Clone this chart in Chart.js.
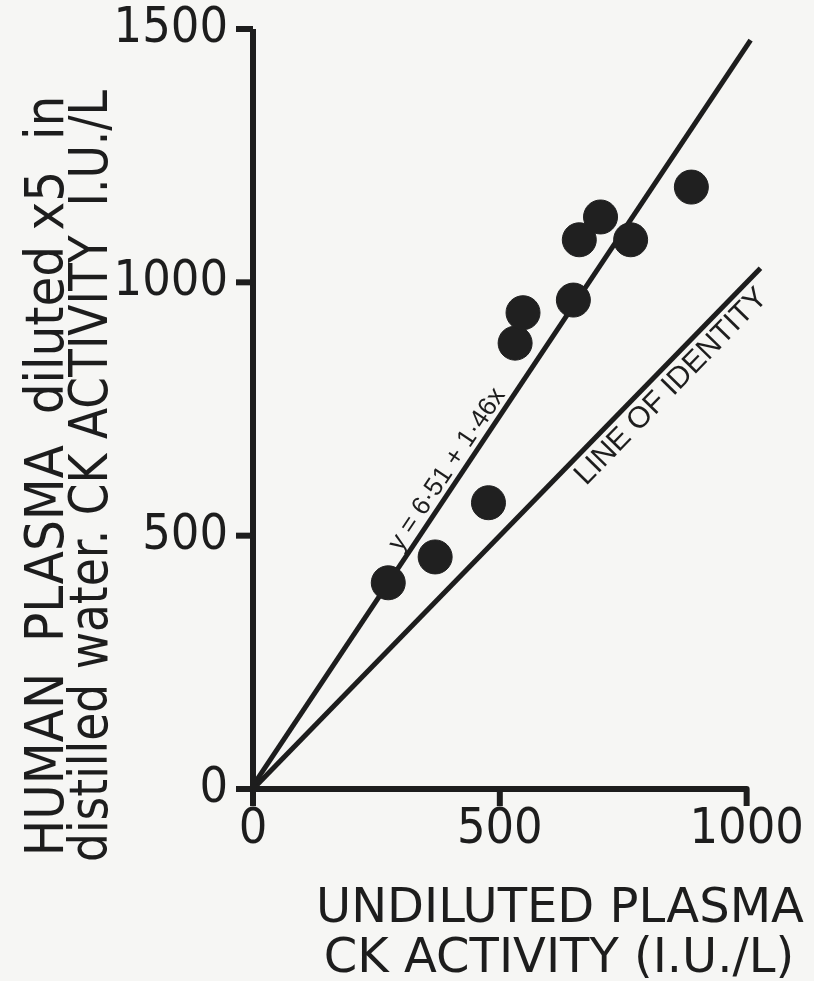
<!DOCTYPE html>
<html>
<head>
<meta charset="utf-8">
<script src="https://cdn.jsdelivr.net/npm/chart.js@4.4.1/dist/chart.umd.min.js"></script>
<style>
	html, body { margin: 0; padding: 0; background: #f6f6f4; }
	canvas { display: block; }
</style>
</head>
<body>
<canvas id="myChart" width="814" height="981"></canvas>
<script>
// values (x = undiluted, y = diluted x5)
const undiluted = [274, 369, 477, 531, 547, 649, 661, 704, 765, 888]
const diluted = [407, 458, 565, 880, 940, 965, 1084, 1129, 1084, 1188]
const xTicks = [0, 500, 1000]
const yTicks = [0, 500, 1000, 1500]

// fitted line as printed on the figure, and where the drawn lines stop
const intercept = 6.51
const slope = 1.46
const fitEnd = 1008
const identityEnd = 1028

const xTitle = ['UNDILUTED PLASMA', 'CK ACTIVITY (I.U./L)']
const yTitle = ['HUMAN  PLASMA  diluted x5  in', 'distilled water. CK ACTIVITY  I.U./L']

const ink = '#1d1d1d'
const narrow = '"Liberation Sans Narrow", "DejaVu Sans Condensed", sans-serif'
const ctx = document.getElementById('myChart')

const points = undiluted.map((x, i) => ({ x: x, y: diluted[i] }))

const paper = {
	id: 'paper',
	beforeDraw(chart) {
		const c = chart.ctx
		c.save()
		c.fillStyle = '#f6f6f4'
		c.fillRect(0, 0, chart.width, chart.height)
		c.restore()
	},
}

// axis lines with outside ticks, stopping at 1000 / 1500 like the original
const axes = {
	id: 'axes',
	afterDraw(chart) {
		const c = chart.ctx
		const xs = chart.scales.x
		const ys = chart.scales.y
		const x0 = xs.getPixelForValue(0)
		const y0 = ys.getPixelForValue(0)
		const tick = 17
		c.save()
		c.strokeStyle = ink
		c.lineWidth = 6
		c.lineCap = 'butt'
		c.lineJoin = 'round'

		c.beginPath()
		c.moveTo(x0, y0 + tick)
		c.lineTo(x0, ys.getPixelForValue(1500))
		c.stroke()
		yTicks.forEach(v => {
			const py = ys.getPixelForValue(v)
			c.beginPath()
			c.moveTo(x0 - tick, py)
			c.lineTo(x0, py)
			c.stroke()
		})

		const xEnd = xs.getPixelForValue(1000)
		c.beginPath()
		c.moveTo(x0, y0)
		c.lineTo(xEnd, y0)
		c.lineTo(xEnd, y0 + tick)
		c.stroke()
		xTicks.slice(0, -1).forEach(v => {
			const px = xs.getPixelForValue(v)
			c.beginPath()
			c.moveTo(px, y0)
			c.lineTo(px, y0 + tick)
			c.stroke()
		})
		c.restore()
	},
}

// rotated labels along the two lines; offset > 0 puts the text above-left
function lineLabel(chart, text, fn, atX, offset, font, maxW) {
	const xs = chart.scales.x
	const ys = chart.scales.y
	const ax = xs.getPixelForValue(atX)
	const ay = ys.getPixelForValue(fn(atX))
	const bx = xs.getPixelForValue(atX + 100)
	const by = ys.getPixelForValue(fn(atX + 100))
	const ang = Math.atan2(by - ay, bx - ax)
	const c = chart.ctx
	c.save()
	c.translate(ax + Math.sin(ang) * offset, ay - Math.cos(ang) * offset)
	c.rotate(ang)
	c.font = font
	c.fillStyle = ink
	c.textAlign = 'center'
	c.textBaseline = 'middle'
	c.fillText(text, 0, 0, maxW)
	c.restore()
}

const labels = {
	id: 'labels',
	afterDraw(chart) {
		const c = chart.ctx
		lineLabel(chart, 'y = 6·51 + 1·46x', x => intercept + slope * x, 417, 14,
			'26px "Liberation Sans", Arial, sans-serif', 222)
		lineLabel(chart, 'LINE OF IDENTITY', x => x, 820, -19,
			'30px "Liberation Sans", Arial, sans-serif', 285)

		c.save()
		c.fillStyle = ink
		c.textAlign = 'center'
		c.textBaseline = 'alphabetic'
		c.font = '48px "DejaVu Sans", sans-serif'
		c.fillText(xTitle[0], 560, 922, 493)
		c.fillText(xTitle[1], 559, 972, 485)

		c.translate(0, 476)
		c.rotate(-Math.PI / 2)
		c.font = '54px ' + narrow
		c.fillText(yTitle[0], 0, 63, 772)
		c.fillText(yTitle[1], 0, 107, 772)
		c.restore()
	},
}

new Chart(ctx, {
	type: 'scatter',
	data: {
		datasets: [
			{
				label: 'samples',
				data: points,
				backgroundColor: '#202020',
				borderColor: '#202020',
				pointRadius: 17,
				pointHoverRadius: 17,
				order: 1,
			},
			{
				label: 'fit',
				type: 'line',
				data: [{ x: 0, y: intercept }, { x: fitEnd, y: intercept + slope * fitEnd }],
				borderColor: ink,
				borderWidth: 5,
				pointRadius: 0,
				order: 2,
			},
			{
				label: 'identity',
				type: 'line',
				data: [{ x: 0, y: 0 }, { x: identityEnd, y: identityEnd }],
				borderColor: ink,
				borderWidth: 5,
				pointRadius: 0,
				order: 2,
			},
		],
	},
	options: {
		responsive: false,
		animation: false,
		devicePixelRatio: 1,
		clip: false,
		layout: {
			padding: { top: 29, right: 0, bottom: 0, left: 0 },
		},
		plugins: {
			legend: { display: false },
			tooltip: { enabled: false },
		},
		scales: {
			x: {
				type: 'linear',
				min: 0,
				max: 1100,
				afterBuildTicks: s => { s.ticks = xTicks.map(v => ({ value: v })) },
				afterFit: s => {
					s.height = 192
					s.paddingLeft = 0
					s.paddingRight = 0
				},
				grid: { display: false, drawTicks: false },
				border: { display: false },
				ticks: {
					color: ink,
					padding: 11,
					maxRotation: 0,
					callback: v => String(v),
					font: { family: narrow, size: 50 },
				},
			},
			y: {
				type: 'linear',
				min: 0,
				max: 1500,
				afterBuildTicks: s => { s.ticks = yTicks.map(v => ({ value: v })) },
				afterFit: s => {
					s.width = 253
					s.paddingTop = 0
					s.paddingBottom = 0
				},
				grid: { display: false, drawTicks: false },
				border: { display: false },
				ticks: {
					color: ink,
					padding: 25,
					callback: v => String(v),
					font: { family: narrow, size: 50 },
				},
			},
		},
	},
	plugins: [paper, axes, labels],
})
</script>
</body>
</html>
